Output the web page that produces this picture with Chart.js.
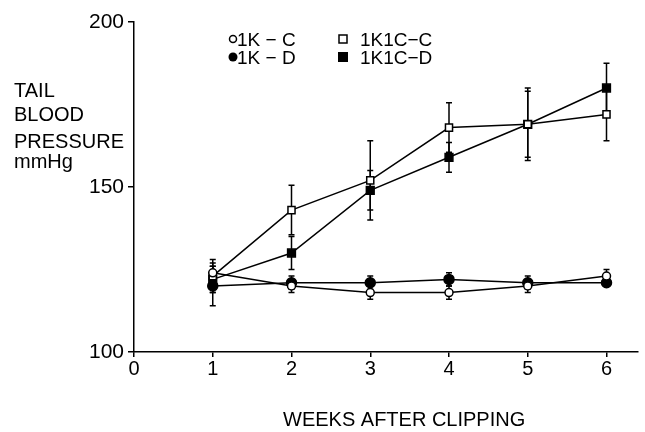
<!DOCTYPE html>
<html>
<head>
<meta charset="utf-8">
<script src="https://cdn.jsdelivr.net/npm/chart.js@4/dist/chart.umd.min.js"></script>
<style>
  html, body { margin: 0; padding: 0; background: #fff; }
  #wrap { width: 645px; height: 432px; }
</style>
</head>
<body>
<div id="wrap"><canvas id="bp-chart"></canvas></div>
<script>
// Tail blood pressure by weeks after clipping
const weeks = [1, 2, 3, 4, 5, 6];

const kC = [124, 120, 118, 118, 120, 123];      // 1K-C
const kD = [120, 121, 121, 122, 121, 121];      // 1K-D
const k1cC = [123, 143, 152, 168, 169, 172];    // 1K1C-C
const k1cD = [122, 130, 149, 159, 169, 180];    // 1K1C-D

const kCErr = [3, 2, 2, 2, 2, 2];
const kDErr = [6, 2, 2, 2, 2, 1];
const k1cCErr = [5, 7.5, 12, 7.5, 11, 8];
const k1cDErr = [4, 5, 6, 4.5, 10, 7.5];

const xTicks = [0, 1, 2, 3, 4, 5, 6];
const yTicks = [100, 150, 200];
const yTitle = ['TAIL', 'BLOOD', 'PRESSURE', 'mmHg'];
const xTitle = 'WEEKS AFTER CLIPPING';

const FONT = '"Liberation Sans", Arial, sans-serif';

function toPoints(values) {
    return weeks.map((w, i) => ({ x: w, y: values[i] }));
}

function makeSet(label, values, errors, style, radius, filled) {
    return {
        label,
        data: toPoints(values),
        errors,
        showLine: true,
        borderColor: '#000',
        borderWidth: 1.5,
        pointStyle: style,
        pointRadius: radius,
        pointBackgroundColor: filled ? '#000' : '#fff',
        pointBorderColor: '#000',
        pointBorderWidth: 1.5,
        tension: 0,
    };
}

// vertical error bars with small caps, drawn under the points
const errorBars = {
    id: 'errorBars',
    beforeDatasetsDraw(chart) {
        const ctx = chart.ctx;
        const ys = chart.scales.y;
        ctx.save();
        ctx.strokeStyle = '#000';
        ctx.lineWidth = 1.5;
        chart.data.datasets.forEach((ds, di) => {
            const meta = chart.getDatasetMeta(di);
            meta.data.forEach((pt, i) => {
                const v = ds.data[i].y;
                const e = ds.errors[i];
                const top = ys.getPixelForValue(v + e);
                const bot = ys.getPixelForValue(v - e);
                ctx.beginPath();
                ctx.moveTo(pt.x, top);
                ctx.lineTo(pt.x, bot);
                ctx.moveTo(pt.x - 3, top);
                ctx.lineTo(pt.x + 3, top);
                ctx.moveTo(pt.x - 3, bot);
                ctx.lineTo(pt.x + 3, bot);
                ctx.stroke();
            });
        });
        ctx.restore();
    }
};

// axis titles and the 2x2 key
const annotations = {
    id: 'annotations',
    afterDraw(chart) {
        const ctx = chart.ctx;
        ctx.save();
        ctx.fillStyle = '#000';
        ctx.strokeStyle = '#000';
        ctx.textBaseline = 'alphabetic';
        ctx.font = '20px ' + FONT;
        const base = [97, 121, 148, 168];
        yTitle.forEach((t, i) => ctx.fillText(t, 14, base[i]));
        ctx.fillText(xTitle, 283, 426);

        ctx.font = '19px ' + FONT;
        ctx.lineWidth = 1.5;
        // open circle
        ctx.beginPath(); ctx.arc(233, 39, 3.5, 0, Math.PI * 2); ctx.stroke();
        ctx.fillText('1K \u2212 C', 237, 46);
        // filled circle
        ctx.beginPath(); ctx.arc(233, 57, 4.5, 0, Math.PI * 2); ctx.fill();
        ctx.fillText('1K \u2212 D', 237, 64);
        // open square
        ctx.strokeRect(339, 35, 8, 8);
        ctx.fillText('1K1C\u2212C', 360, 46);
        // filled square
        ctx.fillRect(338, 52, 10, 10);
        ctx.fillText('1K1C\u2212D', 360, 64);
        ctx.restore();
    }
};

const ctx = document.getElementById('bp-chart').getContext('2d');

new Chart(ctx, {
    type: 'scatter',
    data: {
        datasets: [
            makeSet('1K-C', kC, kCErr, 'circle', 4, false),
            makeSet('1K-D', kD, kDErr, 'circle', 5, true),
            makeSet('1K1C-C', k1cC, k1cCErr, 'rect', 5, false),
            makeSet('1K1C-D', k1cD, k1cDErr, 'rect', 5.5, true),
        ],
    },
    plugins: [errorBars, annotations],
    options: {
        animation: false,
        responsive: true,
        maintainAspectRatio: false,
        layout: { padding: { left: 0, right: 5, top: 22, bottom: 0 } },
        plugins: {
            legend: { display: false },
            tooltip: { enabled: false },
        },
        scales: {
            x: {
                type: 'linear',
                min: 0,
                max: 6.4,
                afterBuildTicks: (scale) => {
                    scale.ticks = xTicks.map(v => ({ value: v }));
                },
                afterFit: (scale) => { scale.height = 80; },
                grid: { drawOnChartArea: false, drawTicks: true, tickLength: 5, color: '#000', lineWidth: 1.5 },
                border: { color: '#000', width: 1.5 },
                ticks: {
                    color: '#000',
                    padding: 0,
                    maxRotation: 0,
                    font: { family: FONT, size: 20 },
                },
            },
            y: {
                min: 100,
                max: 200,
                afterBuildTicks: (scale) => {
                    scale.ticks = yTicks.map(v => ({ value: v }));
                },
                afterFit: (scale) => { scale.width = 134; },
                grid: { drawOnChartArea: false, drawTicks: true, tickLength: 6, color: '#000', lineWidth: 1.5 },
                border: { color: '#000', width: 1.5 },
                ticks: {
                    color: '#000',
                    padding: 4,
                    font: { family: FONT, size: 21 },
                },
            },
        },
    },
});
</script>
</body>
</html>
